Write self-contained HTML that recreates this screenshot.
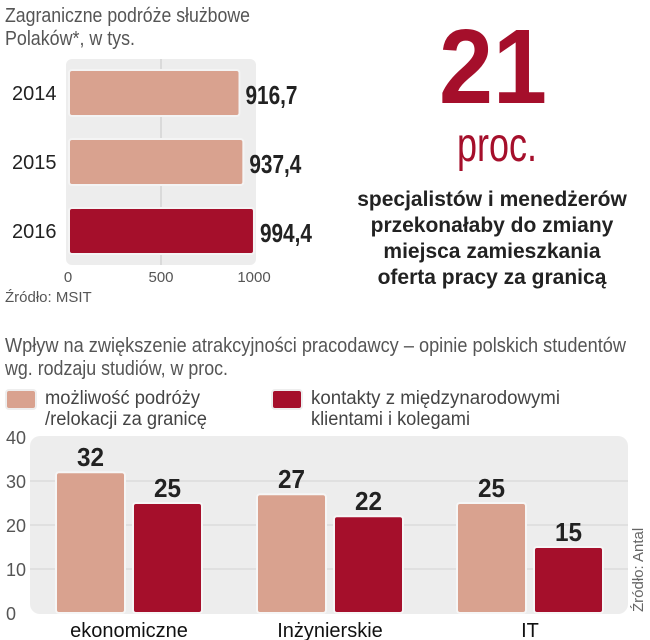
<!DOCTYPE html>
<html><head><meta charset="utf-8"><style>
html,body{margin:0;padding:0;background:#fff;}
svg{display:block;font-family:"Liberation Sans",sans-serif;}
</style></head><body>
<svg id="c" width="650" height="640" viewBox="0 0 650 640" xmlns="http://www.w3.org/2000/svg">
<text x="5" y="22" font-size="20" fill="#555" textLength="245" lengthAdjust="spacingAndGlyphs">Zagraniczne podróże służbowe</text>
<text x="5" y="45" font-size="20" fill="#555" textLength="130" lengthAdjust="spacingAndGlyphs">Polaków*, w tys.</text>
<rect x="66" y="59" width="190" height="206" rx="6" fill="#ededed"/>
<g id="top"></g>
<text x="5" y="302" font-size="15" fill="#555">Źródło: MSIT</text>

<text x="493" y="103" font-size="106" font-weight="bold" fill="#a50f2b" text-anchor="middle" textLength="108" lengthAdjust="spacingAndGlyphs">21</text>
<text x="497" y="161" font-size="48" fill="#a50f2b" text-anchor="middle" textLength="80" lengthAdjust="spacingAndGlyphs">proc.</text>
<g font-size="21" font-weight="bold" fill="#222" text-anchor="middle">
<text x="492" y="206">specjalistów i menedżerów</text>
<text x="492" y="232">przekonałaby do zmiany</text>
<text x="492" y="258">miejsca zamieszkania</text>
<text x="492" y="284">oferta pracy za granicą</text>
</g>

<text x="5" y="352" font-size="20" fill="#555" textLength="621" lengthAdjust="spacingAndGlyphs">Wpływ na zwiększenie atrakcyjności pracodawcy – opinie polskich studentów</text>
<text x="5" y="375" font-size="20" fill="#555" textLength="223" lengthAdjust="spacingAndGlyphs">wg. rodzaju studiów, w proc.</text>
<rect x="6" y="390" width="30" height="19" rx="3" fill="#d9a28f" stroke="#eee" stroke-width="2"/>
<text x="45" y="404" font-size="19" fill="#444" textLength="155" lengthAdjust="spacingAndGlyphs">możliwość podróży</text>
<text x="45" y="425" font-size="19" fill="#444" textLength="162" lengthAdjust="spacingAndGlyphs">/relokacji za granicę</text>
<rect x="272" y="390" width="30" height="19" rx="3" fill="#a50f2b" stroke="#eee" stroke-width="2"/>
<text x="311" y="404" font-size="19" fill="#444" textLength="249" lengthAdjust="spacingAndGlyphs">kontakty z międzynarodowymi</text>
<text x="311" y="425" font-size="19" fill="#444" textLength="159" lengthAdjust="spacingAndGlyphs">klientami i kolegami</text>
<rect x="30" y="436" width="598" height="178" rx="10" fill="#ededed"/>
<g id="bot"></g>
<text transform="translate(643,612) rotate(-90)" font-size="15" fill="#666">Źródło: Antal</text>
</svg>
<script>
const NS="http://www.w3.org/2000/svg";
const topYears=["2014","2015","2016"];
const topValues=[916.7,937.4,994.4];
const topLabels=["916,7","937,4","994,4"];
const topTicks=[0,500,1000];
const cats=["ekonomiczne","Inżynierskie","IT"];
const travel=[32,27,25];
const contacts=[25,22,15];
const yTicks=[0,10,20,30,40];

function mk(tag,attrs,parent,text){const e=document.createElementNS(NS,tag);for(const k in attrs)e.setAttribute(k,attrs[k]);if(text!==undefined)e.textContent=text;parent.appendChild(e);return e;}

// top chart
const tg=document.getElementById('top');
const tx=v=>68+v*0.186;
const rows=[70,139,208], bh=46;
const g500=mk('line',{x1:tx(500),x2:tx(500),y1:59,y2:265,stroke:'#c8c8c8','stroke-width':1},tg);


topTicks.forEach(t=>{
  const e=mk('text',{x:tx(t),y:282,'font-size':15,fill:'#555','text-anchor':'middle'},tg,String(t));
  
  
});
topYears.forEach((y,i)=>{
  const yy=rows[i];
  const r=mk('rect',{x:tx(0)+1,y:yy,width:tx(topValues[i])-tx(0),height:bh,rx:3,fill:i==2?'#a50f2b':'#d9a28f',stroke:'#f4f4f4','stroke-width':2},tg);
  
  
  const l=mk('text',{x:12,y:yy+bh/2+7,'font-size':20,fill:'#222'},tg,y);
  
  
  const v=mk('text',{x:tx(topValues[i])+7,y:yy+bh/2+11,'font-size':26,'font-weight':'bold',fill:'#222',textLength:52,lengthAdjust:'spacingAndGlyphs'},tg,topLabels[i]);
  
  
});

// bottom chart
const bg=document.getElementById('bot');
const yv=v=>613-v*4.4;
yTicks.forEach(t=>{
  if(t>0&&t<40){const gl=mk('line',{x1:30,x2:628,y1:yv(t),y2:yv(t),stroke:'#d4d4d4','stroke-width':1},bg);
  
  }
  const e=mk('text',{x:6,y:yv(t)+7,'font-size':18,fill:'#555'},bg,String(t));
  
  
});
const centers=[129,330,530], bw=69;
cats.forEach((c,i)=>{
  [[travel,'#d9a28f',-bw-4,'travel'],[contacts,'#a50f2b',4,'contacts']].forEach(([arr,col,off,nm])=>{
    const x=centers[i]+off;
    const r=mk('rect',{x:x,y:yv(arr[i]),width:bw,height:yv(0)-yv(arr[i]),rx:3,fill:col,stroke:'#f6f6f6','stroke-width':2},bg);
    
    
    const v=mk('text',{x:x+bw/2,y:yv(arr[i])-6,'font-size':26,'font-weight':'bold',fill:'#222','text-anchor':'middle',textLength:27,lengthAdjust:'spacingAndGlyphs'},bg,String(arr[i]));
    
    
  });
  const l=mk('text',{x:centers[i],y:637,'font-size':20,fill:'#111','text-anchor':'middle'},bg,c);
  
  
});
</script>
</body></html>
